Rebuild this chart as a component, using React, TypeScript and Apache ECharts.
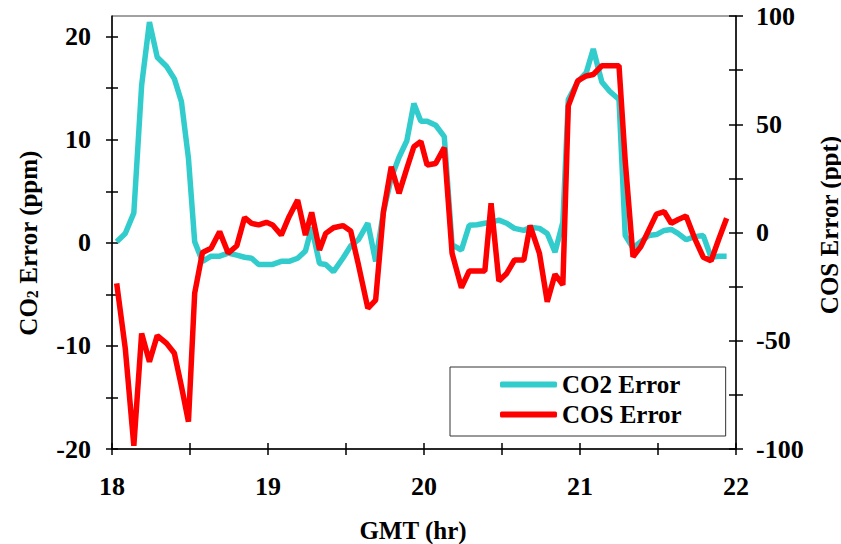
import React, { useEffect, useRef } from "react";
import * as echarts from "echarts";

const times = [18.03, 18.085, 18.14, 18.19, 18.24, 18.29, 18.35, 18.4, 18.445, 18.49, 18.53, 18.58, 18.635, 18.69, 18.745, 18.8, 18.85, 18.895, 18.94, 18.99, 19.03, 19.085, 19.135, 19.19, 19.24, 19.28, 19.33, 19.37, 19.42, 19.48, 19.53, 19.58, 19.64, 19.69, 19.74, 19.79, 19.84, 19.89, 19.935, 19.98, 20.02, 20.075, 20.13, 20.18, 20.24, 20.29, 20.34, 20.39, 20.43, 20.48, 20.53, 20.58, 20.64, 20.68, 20.74, 20.79, 20.84, 20.89, 20.925, 20.985, 21.04, 21.085, 21.14, 21.19, 21.25, 21.29, 21.34, 21.39, 21.44, 21.49, 21.54, 21.585, 21.63, 21.68, 21.735, 21.79, 21.84, 21.89, 21.94];

const co2Error = [0.1, 0.9, 2.9, 15.3, 21.4, 18.0, 17.1, 15.9, 13.7, 8.2, 0.1, -1.8, -1.3, -1.3, -1.0, -1.2, -1.4, -1.5, -2.1, -2.1, -2.1, -1.8, -1.8, -1.5, -0.8, 1.5, -2.0, -2.1, -2.8, -1.5, -0.3, 0.3, 1.9, -1.8, 3.0, 6.3, 8.3, 9.9, 13.5, 11.8, 11.8, 11.4, 10.3, -0.2, -0.7, 1.7, 1.75, 1.9, 2.0, 2.2, 1.9, 1.4, 1.2, 1.5, 1.4, 0.9, -0.9, 2.0, 13.9, 15.6, 16.5, 18.8, 15.6, 14.7, 13.9, 0.7, -0.5, 0.1, 0.7, 0.8, 1.2, 1.3, 0.9, 0.3, 0.6, 0.7, -1.4, -1.3, -1.3];

const cosError = [-23.5, -53.5, -98.5, -46.6, -59.7, -47.6, -51.2, -55.8, -71, -87.4, -28.1, -9.2, -7.3, 0.4, -9.6, -6.1, 6.9, 4.2, 3.5, 4.7, 3.5, -1.2, 7.3, 15.0, -1.2, 9.3, -8.1, -0.4, 2.2, 3.2, 0.7, -15.0, -35.0, -31.2, 9.6, 30.4, 18.1, 29.6, 39.6, 42.0, 31.2, 31.9, 39.2, -9.6, -25.5, -17.8, -17.8, -17.8, 13.5, -22.4, -18.9, -12.7, -12.7, 3.2, -9.6, -32.0, -19.3, -24.2, 58.5, 70.0, 72.3, 73.0, 77.0, 77.0, 77.0, 33, -11.2, -6.5, 1.0, 8.5, 9.6, 4.3, 6.0, 7.6, -2.7, -11.4, -13.1, -3.0, 6.6];

const xTickValues = [18, 18.5, 19, 19.5, 20, 20.5, 21, 21.5, 22];
const xLabelValues = [18, 19, 20, 21, 22];
const leftTickValues = [-20, -15, -10, -5, 0, 5, 10, 15, 20];
const leftLabelValues = [-20, -10, 0, 10, 20];
const rightTickValues = [-100, -75, -50, -25, 0, 25, 50, 75, 100];
const rightLabelValues = [-100, -50, 0, 50, 100];

const FONT = "'Liberation Serif', 'Times New Roman', serif";
const CYAN = "#33CCCC";
const RED = "#FF0000";

export default function App() {
  const ref = useRef<HTMLDivElement>(null);
  useEffect(() => {
    document.body.style.margin = "0";
    const chart = echarts.init(ref.current!, null, { renderer: "svg" });
    const labelStyle = {
      fontFamily: FONT,
      fontWeight: "bold" as const,
      fontSize: 26,
      color: "#000",
    };
    const tickLine = { color: "#000", width: 1.5 };
    const axisLine = { show: true, onZero: false, lineStyle: { color: "#000", width: 1.5 } };
    const titleStyle = { fontFamily: FONT, fontWeight: "bold", fontSize: 25, fill: "#000" };
    chart.setOption({
      animation: false,
      backgroundColor: "#fff",
      grid: {
        left: 112,
        right: 105,
        top: 16,
        bottom: 95,
        show: true,
        borderColor: "#444",
        borderWidth: 1,
        containLabel: false,
      },
      xAxis: [
        {
          type: "value",
          min: 18,
          max: 22,
          interval: 0.5,
          position: "bottom",
          axisLine,
          axisTick: { show: true, length: 6, lineStyle: tickLine, customValues: xTickValues },
          axisLabel: {
            ...labelStyle,
            margin: 24,
            customValues: xLabelValues,
            formatter: (v: number) => (Number.isInteger(v) ? String(v) : ""),
          },
          splitLine: { show: false },
        },
        {
          type: "value",
          min: 18,
          max: 22,
          interval: 0.5,
          position: "bottom",
          axisLine: { show: false, onZero: false },
          axisTick: { show: true, inside: true, length: 6, lineStyle: tickLine, customValues: xTickValues },
          axisLabel: { show: false },
          splitLine: { show: false },
        },
      ],
      yAxis: [
        {
          type: "value",
          min: -20,
          max: 22,
          interval: 5,
          position: "left",
          axisLine,
          axisTick: { show: true, length: 6, lineStyle: tickLine, customValues: leftTickValues },
          axisLabel: {
            ...labelStyle,
            margin: 21,
            customValues: leftLabelValues,
            formatter: (v: number) => (v % 10 === 0 && v <= 20 ? String(v) : ""),
          },
          splitLine: { show: false },
        },
        {
          type: "value",
          min: -100,
          max: 100,
          interval: 25,
          position: "right",
          axisLine,
          axisTick: { show: true, length: 7, lineStyle: tickLine, customValues: rightTickValues },
          axisLabel: {
            ...labelStyle,
            margin: 20,
            customValues: rightLabelValues,
            formatter: (v: number) => (v % 50 === 0 ? String(v) : ""),
          },
          splitLine: { show: false },
        },
        {
          type: "value",
          min: -20,
          max: 22,
          interval: 5,
          position: "left",
          axisLine: { show: false, onZero: false },
          axisTick: { show: true, inside: true, length: 6, lineStyle: tickLine, customValues: leftTickValues },
          axisLabel: { show: false },
          splitLine: { show: false },
        },
        {
          type: "value",
          min: -100,
          max: 100,
          interval: 25,
          position: "right",
          axisLine: { show: false, onZero: false },
          axisTick: { show: true, inside: true, length: 7, lineStyle: tickLine, customValues: rightTickValues },
          axisLabel: { show: false },
          splitLine: { show: false },
        },
      ],
      legend: {
        orient: "vertical",
        left: 450,
        top: 367,
        padding: [5, 44, 9, 50],
        itemGap: 5,
        itemWidth: 57,
        itemHeight: 6,
        icon: "roundRect",
        backgroundColor: "#fff",
        borderColor: "#333",
        borderWidth: 1,
        borderRadius: 0,
        textStyle: {
          fontFamily: FONT,
          fontWeight: "bold",
          fontSize: 25,
          color: "#000",
          lineHeight: 25,
          height: 25,
        },
        data: ["CO2 Error", "COS Error"],
      },
      graphic: [
        {
          type: "text",
          x: 28,
          y: 243,
          rotation: Math.PI / 2,
          style: {
            text: "{a|CO}{s|2}{a| Error (ppm)}",
            align: "center",
            verticalAlign: "middle",
            rich: {
              a: { fontFamily: FONT, fontWeight: "bold", fontSize: 25, fill: "#000" },
              s: { fontFamily: FONT, fontWeight: "bold", fontSize: 16, fill: "#000", verticalAlign: "bottom" },
            },
          },
        },
        {
          type: "text",
          x: 829,
          y: 225,
          rotation: Math.PI / 2,
          style: { text: "COS Error (ppt)", align: "center", verticalAlign: "middle", ...titleStyle },
        },
        {
          type: "text",
          x: 413,
          y: 530,
          style: { text: "GMT (hr)", align: "center", verticalAlign: "middle", ...titleStyle },
        },
      ],
      series: [
        {
          name: "CO2 Error",
          type: "line",
          xAxisIndex: 0,
          yAxisIndex: 0,
          symbol: "none",
          data: times.map((t, i) => [t, co2Error[i]]),
          lineStyle: { color: CYAN, width: 5.5 },
          itemStyle: { color: CYAN },
        },
        {
          name: "COS Error",
          type: "line",
          xAxisIndex: 0,
          yAxisIndex: 1,
          symbol: "none",
          data: times.map((t, i) => [t, cosError[i]]),
          lineStyle: { color: RED, width: 5.5 },
          itemStyle: { color: RED },
        },
      ],
    });
    return () => chart.dispose();
  }, []);
  return <div ref={ref} style={{ width: 841, height: 544 }} />;
}
